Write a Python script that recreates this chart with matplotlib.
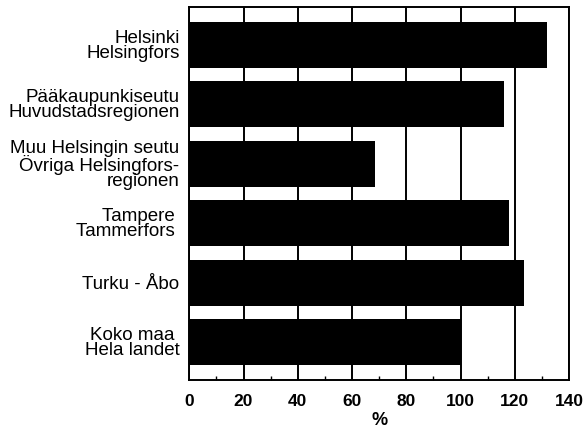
import numpy as np
import matplotlib.pyplot as plt
import matplotlib.transforms as mtransforms

plt.rcParams['font.family'] = ['Liberation Sans', 'DejaVu Sans']

regions = ['Helsinki\nHelsingfors',
           'Pääkaupunkiseutu\nHuvudstadsregionen',
           'Muu Helsingin seutu\nÖvriga Helsingfors-\nregionen',
           'Tampere \nTammerfors ',
           'Turku - Åbo',
           'Koko maa \nHela landet']
values = [132, 116, 68.5, 118, 123.3, 100]
xticks = [0, 20, 40, 60, 80, 100, 120, 140]

fig = plt.figure(figsize=(5.87, 4.33), dpi=100)
ax = fig.add_axes([0.3225, 0.1224, 0.6468, 0.8614])

ypos = np.arange(len(regions))
ax.barh(ypos, values, height=0.775, color='black', zorder=3)

ax.set_xlim(0, 140)
ax.set_ylim(len(regions) - 0.36, -0.64)
ax.set_xticks(xticks)
ax.set_xticklabels([str(t) for t in xticks], fontsize=12.5, fontweight='bold')
ax.set_xticks(np.arange(10, 140, 20), minor=True)
ax.tick_params(axis='x', which='major', length=0, pad=10)
ax.tick_params(axis='x', which='minor', direction='in', length=3, width=1)
ax.set_yticks(ypos)
ax.set_yticklabels(regions, fontsize=13.5, linespacing=0.85, ha='right')
# nudge the region names down a little, as in the original
shift = mtransforms.ScaledTranslation(0, -3 / 100, fig.dpi_scale_trans)
for lab in ax.get_yticklabels():
    lab.set_transform(lab.get_transform() + shift)
ax.tick_params(axis='y', length=0, pad=7)
ax.grid(axis='x', color='black', linewidth=1.4, zorder=1)
ax.set_axisbelow(True)
for s in ax.spines.values():
    s.set_linewidth(1.4)
ax.set_xlabel('%', fontsize=13, fontweight='bold', labelpad=2)

fig.savefig('out.png', dpi=100)
